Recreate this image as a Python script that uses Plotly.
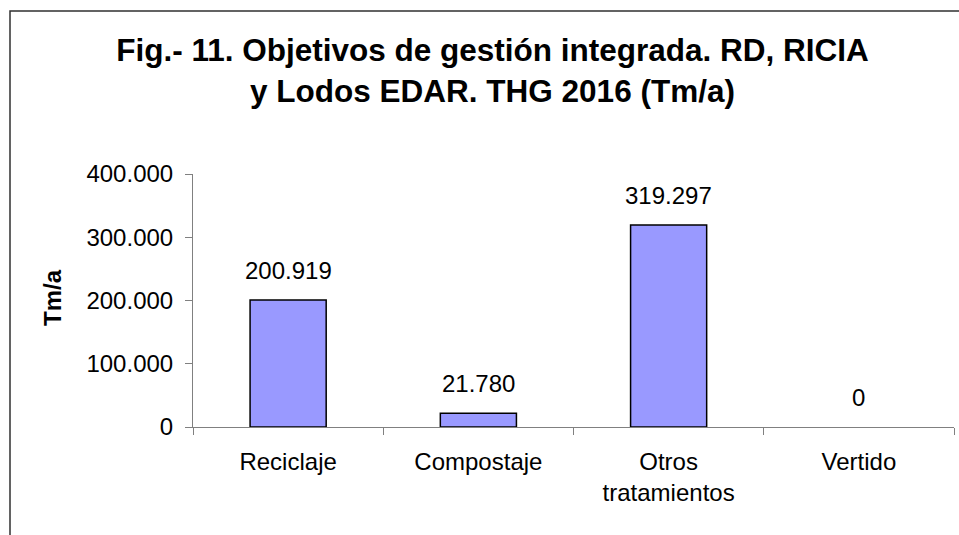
import plotly.graph_objects as go

categories = ["Reciclaje", "Compostaje", "Otros<br>tratamientos", "Vertido"]
values = [200919, 21780, 319297, 0]
y_ticks = [0, 100000, 200000, 300000, 400000]
y_tick_labels = ["0", "100.000", "200.000", "300.000", "400.000"]

W, H = 959, 535
L, R, T, B = 193, 5, 174, 108
pw, ph = W - L - R, H - T - B

def fmt(v):
    return f"{v:,}".replace(",", ".")

fig = go.Figure(go.Bar(
    x=categories, y=values, width=0.4,
    marker=dict(color="#9999FF",
                line=dict(color="black", width=[1.5 if v else 0 for v in values])),
    hoverinfo="skip",
))

font = "Liberation Sans, Arial, sans-serif"

annotations = [
    dict(x=c, y=v, xref="x", yref="y", text=fmt(v), showarrow=False,
         yanchor="bottom", yshift=14, font=dict(family=font, size=24, color="black"))
    for c, v in zip(categories, values)
]
annotations.append(dict(
    x=(52 - L) / pw, y=(427 - 298) / ph,
    xref="paper", yref="paper", text="<b>Tm/a</b>", textangle=-90, showarrow=False,
    xanchor="center", yanchor="middle", font=dict(family=font, size=24, color="black")))

x0 = (10 - L) / pw
y0 = (427 - 11) / ph
x1 = (W + 20 - L) / pw
y1 = (427 - (H + 20)) / ph

fig.update_layout(
    width=W, height=H,
    margin=dict(l=L, r=R, t=T, b=B, autoexpand=False),
    paper_bgcolor="white", plot_bgcolor="white",
    separators=",.",
    showlegend=False,
    title=dict(text="<b>Fig.- 11. Objetivos de gestión integrada. RD, RICIA<br>y Lodos EDAR. THG 2016 (Tm/a)</b>",
               x=492.5 / W, xref="container", xanchor="center",
               y=1 - 61 / H, yref="container", yanchor="middle",
               font=dict(family=font, size=31.5, color="black")),
    xaxis=dict(range=[-0.5, 3.5], showline=True, linecolor="#808080", linewidth=1,
               ticks="outside", tickson="boundaries", ticklen=7, tickcolor="#808080",
               showgrid=False, zeroline=False, ticklabelstandoff=13,
               tickfont=dict(family=font, size=24, color="black")),
    yaxis=dict(range=[0, 400000], tickvals=y_ticks, ticktext=y_tick_labels,
               showline=True, linecolor="#808080", linewidth=1,
               ticks="outside", ticklen=7, tickcolor="#808080",
               showgrid=False, zeroline=False, ticklabelstandoff=7,
               tickfont=dict(family=font, size=24, color="black")),
    annotations=annotations,
    shapes=[dict(type="rect", xref="paper", yref="paper", x0=x0, y0=y0, x1=x1, y1=y1,
                 line=dict(color="#303030", width=1.5), fillcolor="rgba(0,0,0,0)", layer="below")],
)

fig.write_html("out.html", config={"displayModeBar": False},
               post_script="document.body.style.margin='0';document.body.style.overflow='hidden';")
